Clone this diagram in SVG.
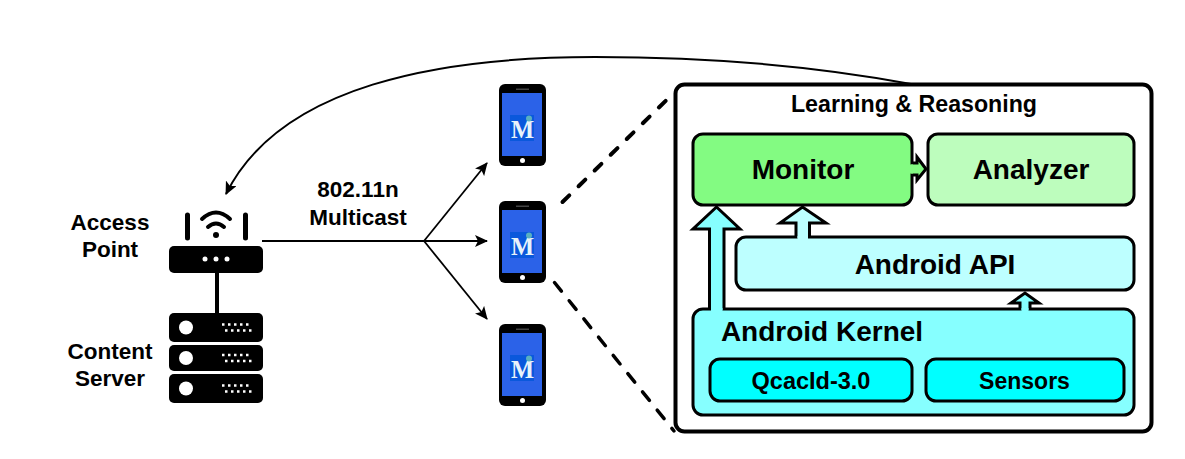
<svg xmlns="http://www.w3.org/2000/svg" xmlns:xlink="http://www.w3.org/1999/xlink" width="1185" height="459" viewBox="0 0 1185 459">
<style>
text{font-family:"Liberation Sans",Arial,sans-serif;font-weight:bold;fill:#000;text-anchor:middle}
.t22{font-size:22.500px}.t28{font-size:28px}.t23{font-size:23px}
.box{stroke:#000;stroke-width:3}
.con{fill:none;stroke:#000;stroke-width:2}
.dash{fill:none;stroke:#000;stroke-linecap:round}
.blk{stroke:#000;stroke-width:3;stroke-linejoin:miter}
</style>
<defs>
<marker id="arr" markerUnits="userSpaceOnUse" markerWidth="14" markerHeight="12" refX="12" refY="6" orient="auto"><path d="M0 0L13 6L0 12L3 6Z" fill="#000"/></marker>
<g id="phone">
<rect x="0" y="0" width="47" height="82" rx="6" fill="#000"/>
<rect x="3" y="9" width="40" height="63" fill="#2b62e8"/>
<rect x="17" y="4.500" width="13" height="1.500" fill="#444"/>
<circle cx="23.500" cy="76.500" r="2.500" fill="#fff"/>
<rect x="11" y="31" width="24" height="26" fill="#0a58dc"/>
<text x="23.500" y="54" style="font-family:'Liberation Serif',serif;font-size:24.500px;fill:#e8f2fa">M</text>
<circle cx="30" cy="34.500" r="3" fill="#5ab0c0"/>
</g>
<g id="dots">
<path d="M53 -3h30M56 3h30" stroke="#fff" stroke-width="2.500" stroke-dasharray="2.500 3.500" fill="none"/>
<circle cx="17" cy="0" r="7" fill="#fff"/>
</g>
</defs>
<rect width="1185" height="459" fill="#fff"/>
<g id="connectors">
<path class="con" d="M911 84C810 65 700 57 595 57C440 57 280 85 226 194" marker-end="url(#arr)"/>
<path class="con" d="M262 241H487" marker-end="url(#arr)" style="stroke-width:1.800"/>
<path class="con" d="M424 241L487 163" marker-end="url(#arr)" style="stroke-width:1.800"/>
<path class="con" d="M424 241L487 319" marker-end="url(#arr)" style="stroke-width:1.800"/>
<path class="dash" d="M562.500 202L667 99.500" style="stroke-width:4;stroke-dasharray:9.500 13"/>
<path class="dash" d="M554.500 282.500L674 431" style="stroke-width:3.500;stroke-dasharray:11 12.400"/>
<path d="M217 270V315" stroke="#000" stroke-width="4" fill="none"/>
</g>
<g id="access-point">
<rect x="169" y="246" width="94" height="27" rx="5" fill="#000"/>
<circle cx="205" cy="259" r="2.500" fill="#fff"/><circle cx="216" cy="259" r="2.500" fill="#fff"/><circle cx="227" cy="259" r="2.500" fill="#fff"/>
<path d="M187.500 215V238M245.500 215V238" stroke="#000" stroke-width="5" stroke-linecap="round"/>
<path d="M202 219Q216 206 230 219M208 227Q216 220 224 227" stroke="#000" stroke-width="4" fill="none" stroke-linecap="round"/>
<circle cx="216" cy="235" r="3" fill="#000"/>
<text class="t22" x="110" y="230">Access</text>
<text class="t22" x="110" y="257">Point</text>
</g>
<g id="content-server">
<rect x="169" y="313" width="94" height="29" rx="5" fill="#000"/>
<rect x="169" y="345" width="94" height="26" rx="5" fill="#000"/>
<rect x="169" y="374" width="94" height="29" rx="5" fill="#000"/>
<use xlink:href="#dots" href="#dots" x="169" y="327.500"/>
<use xlink:href="#dots" href="#dots" x="169" y="358"/>
<use xlink:href="#dots" href="#dots" x="169" y="388.500"/>
<text class="t22" x="110" y="359">Content</text>
<text class="t22" x="110" y="386">Server</text>
</g>
<g id="multicast-label">
<text class="t22" x="358" y="197">802.11n</text>
<text class="t22" x="358" y="225">Multicast</text>
</g>
<g id="phone-top"><use xlink:href="#phone" href="#phone" x="499" y="84"/></g>
<g id="phone-mid"><use xlink:href="#phone" href="#phone" x="499" y="201"/></g>
<g id="phone-bot"><use xlink:href="#phone" href="#phone" x="499" y="324"/></g>
<g id="learning-reasoning">
<rect x="675.500" y="84.500" width="476" height="347" rx="9" fill="#fff" stroke="#000" stroke-width="4"/>
<text x="914" y="112" style="font-size:23.200px">Learning &amp; Reasoning</text>
</g>
<g id="android-kernel">
<rect class="box" x="693" y="309" width="441" height="106" rx="10" fill="#86ffff"/>
<text class="t28" x="822" y="341">Android Kernel</text>
</g>
<g id="qcacld">
<rect class="box" x="710" y="359" width="202" height="42" rx="10" fill="#00ffff"/>
<text class="t23" x="811" y="389" style="font-size:23.500px">QcacId-3.0</text>
</g>
<g id="sensors">
<rect class="box" x="926" y="359" width="198" height="42" rx="10" fill="#00ffff"/>
<text class="t23" x="1024.500" y="389">Sensors</text>
</g>
<g id="android-api">
<rect class="box" x="736" y="237" width="398" height="53" rx="10" fill="#bdffff"/>
<text class="t28" x="935" y="274">Android API</text>
</g>
<g id="monitor">
<rect class="box" x="693" y="134" width="219" height="71" rx="10" fill="#83fb82"/>
<text class="t28" x="803" y="179">Monitor</text>
</g>
<g id="analyzer">
<rect class="box" x="928" y="134" width="206" height="71" rx="10" fill="#bdfdbd"/>
<text class="t28" x="1031" y="179">Analyzer</text>
</g>
<g id="block-arrows">
<path class="blk" fill="#86ffff" d="M709.500 310V229H693L716.500 207L740 229H724V310" stroke-linecap="butt"/>
<rect x="711" y="308" width="11.500" height="4" fill="#86ffff"/>
<path class="blk" fill="#bdffff" d="M796 238V223H780L802.500 207L826 223H809.500V238"/>
<rect x="797.500" y="236" width="10.500" height="3" fill="#bdffff"/>
<path class="blk" fill="#86ffff" d="M1020 310V303H1011L1025 293L1039 303H1030V310"/>
<rect x="1021.500" y="308" width="7" height="3" fill="#86ffff"/>
<path class="blk" fill="#83fb82" d="M911 163H917V157L926 169L917 180V175H911"/>
<rect x="909" y="164.500" width="4" height="9" fill="#83fb82"/>
</g>
</svg>
